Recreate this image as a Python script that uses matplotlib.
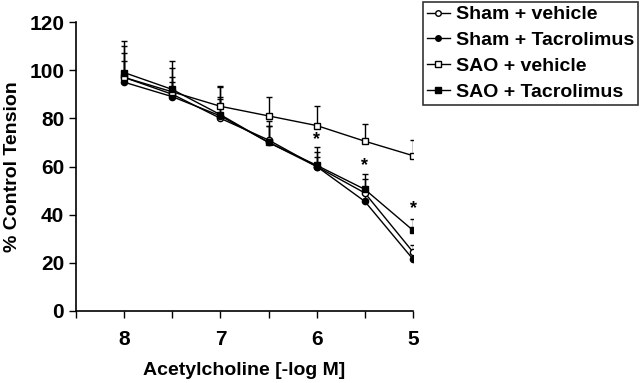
import matplotlib
matplotlib.use("Agg")
import matplotlib.pyplot as plt
from matplotlib.lines import Line2D
import numpy as np

plt.rcParams['font.family'] = ['Liberation Sans', 'DejaVu Sans']
plt.rcParams['font.weight'] = 'bold'

conc = [8, 7.5, 7, 6.5, 6, 5.5, 5]

sham_veh = [97, 90, 80, 71, 60, 49, 24.5]
sham_veh_err = [10, 7, 9, 6, 4, 6, 3]
sham_tac = [95, 89, 81, 70, 60, 45.5, 21.5]
sham_tac_err = [9, 6, 7, 7, 6, 5, 2]
sao_veh = [97, 91, 85, 81, 77, 70.5, 64.5]
sao_veh_err = [13, 10, 8, 8, 8, 7, 6.5]
sao_tac = [99, 92, 81.5, 70, 60.5, 50.5, 33.5]
sao_tac_err = [13, 12, 12, 9, 7.5, 6.5, 4.5]

star_x = [6, 5.5, 5]
star_y = [71, 60.5, 42.5]

series = [
    ("Sham + vehicle", sham_veh, sham_veh_err, 'o', 'white'),
    ("Sham + Tacrolimus", sham_tac, sham_tac_err, 'o', 'black'),
    ("SAO + vehicle", sao_veh, sao_veh_err, 's', 'white'),
    ("SAO + Tacrolimus", sao_tac, sao_tac_err, 's', 'black'),
]

fig = plt.figure(figsize=(6.4, 3.83), dpi=100)
ax = fig.add_axes([76 / 640, 1 - 311 / 383, (413 - 76) / 640, (311 - 22) / 383])

handles = []
for name, y, err, m, fc in series:
    ax.errorbar(conc, y, yerr=[np.zeros(len(err)), err], color='black', lw=1.0,
                elinewidth=1.0, capsize=2.5, capthick=1.0, marker=m, ms=4.5,
                mfc=fc, mec='black', mew=1.0)
    handles.append(Line2D([], [], color='black', lw=1.0, marker=m, ms=4,
                          mfc=fc, mec='black', mew=1.0, label=name))

for sx, sy in zip(star_x, star_y):
    ax.text(sx, sy, '*', ha='center', va='center', fontsize=13, fontweight='bold')

ax.set_xlim(8.5, 5)
ax.set_ylim(0, 120)
ax.set_xticks([8.5, 8, 7.5, 7, 6.5, 6, 5.5, 5])
ax.set_xticklabels(['', '8', '', '7', '', '6', '', '5'])
ax.set_yticks(range(0, 121, 20))
ax.tick_params(labelsize=15, length=5, width=1.0, direction='out')
ax.tick_params(axis='x', pad=9)
for s in ['top', 'right']:
    ax.spines[s].set_visible(False)
for s in ['left', 'bottom']:
    ax.spines[s].set_linewidth(1.2)

ax.set_xlabel('Acetylcholine [-log M]', fontsize=14, fontweight='bold', labelpad=9)
ax.set_ylabel('% Control Tension', fontsize=14, fontweight='bold', labelpad=6)

leg = fig.legend(handles=handles, loc='upper right', bbox_to_anchor=(1.0, 1.0),
                 fontsize=14, frameon=True, fancybox=False, edgecolor='black',
                 handlelength=1.2, handletextpad=0.3, labelspacing=0.42,
                 borderpad=0.2, borderaxespad=0.1)
leg.get_frame().set_linewidth(1.2)
for t in leg.get_texts():
    t.set_fontweight('bold')

fig.savefig('out.png', dpi=100)
